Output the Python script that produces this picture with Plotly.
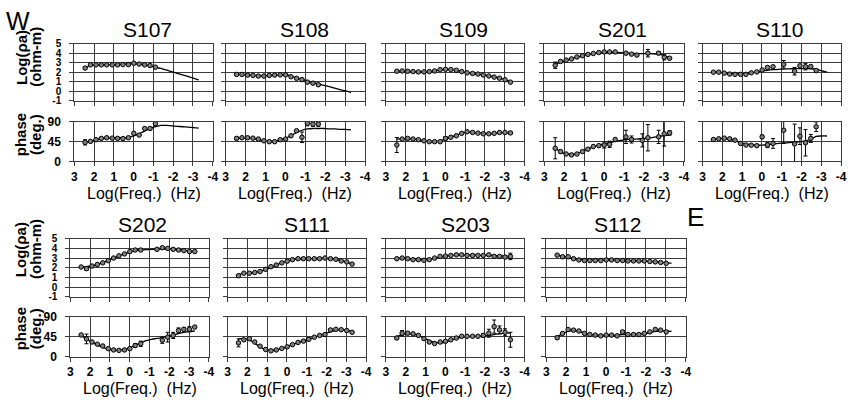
import plotly.graph_objects as go

N = None
FREQ = [2.45, 2.18, 1.90, 1.63, 1.36, 1.08, 0.81, 0.54, 0.26, -0.01, -0.28, -0.56,
        -0.83, -1.10, -1.38, -1.65, -1.92, -2.20, -2.47, -2.74, -3.02, -3.29]
X_TICKS = [3, 2, 1, 0, -1, -2, -3, -4]
X_TICK_TEXT = ["3", "2", "1", "0", "-1", "-2", "-3", "-4"]
RHO_TICKS = [5, 4, 3, 2, 1, 0, -1]
RHO_TICK_TEXT = ["5", "4", "3", "2", "1", "0", "-1"]
PHASE_TICKS = [90, 45, 0]
STATIONS = ["S107", "S108", "S109", "S201", "S110", "S202", "S111", "S203", "S112"]

RHO_DATA = {
    "S107": [2.43, 2.77, 2.77, 2.77, 2.77, 2.77, 2.77, 2.8, 2.8, 2.94, 2.85, 2.77, 2.7, 2.53, N, N, N, N, N, N, N, N],
    "S108": [1.76, 1.76, 1.69, 1.66, 1.59, 1.59, 1.66, 1.69, 1.72, 1.72, 1.52, 1.35, 1.22, 0.95, 0.84, 0.68, N, N, N, N, N, N],
    "S109": [2.1, 2.13, 2.1, 2.06, 2.03, 2.03, 2.06, 2.13, 2.27, 2.3, 2.27, 2.2, 2.06, 1.93, 1.86, 1.8, 1.7, 1.6, 1.48, 1.37, 1.2, 0.95],
    "S201": [2.73, 3.13, 3.27, 3.4, 3.6, 3.73, 3.87, 3.97, 4.07, 4.13, 4.13, 4.13, N, 4.0, 3.9, 3.8, N, 4.0, N, 4.0, 3.57, 3.47],
    "S110": [2.0, 2.0, 1.9, 1.8, 1.77, 1.77, 1.77, 1.93, 2.03, 2.23, 2.5, 2.57, N, 2.83, N, 2.1, 2.67, 2.57, 2.6, 2.17, N, N],
    "S202": [2.07, 1.9, 2.17, 2.33, 2.5, 2.73, 3.0, 3.23, 3.43, 3.67, 3.83, 3.83, N, N, 3.9, 4.07, 4.0, 3.9, 3.83, 3.77, 3.67, 3.67],
    "S111": [1.17, 1.43, 1.43, 1.5, 1.6, 1.83, 2.1, 2.27, 2.5, 2.67, 2.83, 2.93, 2.93, 2.93, 2.93, 2.93, 3.0, 2.93, 2.87, 2.7, 2.6, 2.37],
    "S203": [2.93, 3.0, 2.93, 2.83, 2.83, 2.77, 2.83, 3.0, 3.17, 3.2, 3.27, 3.33, 3.33, 3.27, 3.27, 3.27, 3.27, 3.33, 3.17, 3.17, 3.1, 3.17],
    "S112": [3.3, 3.13, 3.13, 2.93, 2.8, 2.74, 2.74, 2.74, 2.74, 2.8, 2.8, 2.74, 2.74, 2.7, 2.7, 2.7, 2.7, 2.64, 2.6, 2.54, 2.45, N],
}
RHO_ERR = {
    "S107": {0: 0.12},
    "S108": {12: 0.12, 13: 0.08},
    "S109": {0: 0.1},
    "S201": {0: 0.33, 9: 0.1, 13: 0.1, 15: 0.1, 17: 0.4, 19: 0.15, 20: 0.27},
    "S110": {10: 0.1, 11: 0.1, 13: 0.4, 15: 0.4, 16: 0.1, 17: 0.33, 18: 0.1, 19: 0.12},
    "S202": {1: 0.15, 14: 0.1, 15: 0.1},
    "S111": {0: 0.1},
    "S203": {17: 0.1, 18: 0.1, 19: 0.08, 20: 0.1, 21: 0.33},
    "S112": {0: 0.08},
}
RHO_MODEL = {
    "S107": [2.43, 2.68, 2.76, 2.78, 2.79, 2.8, 2.81, 2.83, 2.86, 2.88, 2.85, 2.78, 2.67, 2.52, 2.4, 2.23, 2.06, 1.88, 1.72, 1.55, 1.38, 1.2],
    "S108": [1.76, 1.74, 1.71, 1.68, 1.64, 1.63, 1.65, 1.69, 1.72, 1.71, 1.58, 1.42, 1.25, 1.08, 0.92, 0.77, 0.62, 0.47, 0.32, 0.17, 0.02, -0.14],
    "S109": [2.1, 2.12, 2.1, 2.07, 2.05, 2.05, 2.08, 2.14, 2.24, 2.28, 2.26, 2.18, 2.07, 1.96, 1.87, 1.8, 1.72, 1.62, 1.5, 1.37, 1.22, 1.0],
    "S201": [2.8, 3.05, 3.25, 3.42, 3.58, 3.72, 3.85, 3.95, 4.03, 4.08, 4.1, 4.09, 4.06, 4.02, 3.98, 3.96, 3.95, 3.95, 3.94, 3.9, 3.75, 3.55],
    "S110": [2.0, 1.98, 1.93, 1.88, 1.84, 1.83, 1.85, 1.92, 2.02, 2.12, 2.2, 2.26, 2.3, 2.33, 2.35, 2.37, 2.38, 2.38, 2.36, 2.3, 2.15, 2.0],
    "S202": [2.05, 2.1, 2.2, 2.35, 2.52, 2.73, 2.97, 3.2, 3.43, 3.62, 3.75, 3.82, 3.87, 3.9, 3.92, 3.93, 3.92, 3.89, 3.84, 3.79, 3.74, 3.7],
    "S111": [1.3, 1.38, 1.43, 1.5, 1.62, 1.8, 2.05, 2.28, 2.5, 2.67, 2.8, 2.88, 2.92, 2.94, 2.95, 2.95, 2.95, 2.92, 2.85, 2.73, 2.58, 2.4],
    "S203": [2.95, 2.95, 2.92, 2.88, 2.85, 2.84, 2.87, 2.97, 3.1, 3.2, 3.26, 3.3, 3.31, 3.31, 3.3, 3.29, 3.28, 3.27, 3.25, 3.22, 3.2, 3.18],
    "S112": [3.28, 3.2, 3.08, 2.95, 2.85, 2.8, 2.78, 2.78, 2.78, 2.79, 2.79, 2.77, 2.75, 2.73, 2.71, 2.7, 2.69, 2.66, 2.62, 2.57, 2.5, 2.47],
}
PHASE_DATA = {
    "S107": [43.5, 45.7, 49.5, 52.5, 54, 53, 52.5, 52, 54, 64, 60, 75, 75, 86, N, N, N, N, N, N, N, N],
    "S108": [52.5, 54, 54, 53, 51, 47, 45, 45, 49.5, 51, 58.5, 70, 55, 87, 85, 85, N, N, N, N, N, N],
    "S109": [37.5, 51, 52.5, 51, 49.5, 47, 45, 45, 45, 52.5, 55, 58.5, 64, 67.5, 66, 64.5, 63, 63, 64, 66, 66, 65],
    "S201": [30, 22.5, 17, 15, 17, 22.5, 28, 34, 36, 37.5, 39, 50, N, 56, 50, N, 48, 54, N, 56, 63, 65],
    "S110": [50, 51.5, 53, 51.5, 48.5, 41, 37.5, 37, 36, 56, 37.5, 41, N, 71, N, 40, 57.5, 42.5, 52.5, 79, N, N],
    "S202": [49, 40, 33, 28, 24, 18, 15, 14, 15, 18, 25, 29, N, N, N, 37, 44, 48, 59, 62, 62, 67],
    "S111": [31, 38, 40.5, 33, 23.6, 16, 13, 15, 18.5, 22, 27, 32, 35, 39, 44, 48, 50, 60.5, 62, 61, 59, 55],
    "S203": [42, 53, 53, 51.6, 48, 40.6, 33, 29.5, 33, 34.6, 38, 42, 46, 46, 46, 46, 48, 53, 68, 60.5, 55, 38],
    "S112": [42.7, 52.5, 61.5, 60, 58, 52.5, 50, 48.7, 47, 48.7, 48.7, 47, 56, 50, 50, 50, 52.5, 56, 61.5, 60, 56, N],
}
PHASE_ERR = {
    "S107": {0: 6, 13: 5},
    "S108": {0: 3, 12: 12, 13: 6, 14: 5, 15: 5},
    "S109": {0: 17, 9: 4, 21: 3},
    "S201": {0: 24, 1: 3, 9: 7, 10: 7, 13: 15, 14: 8, 16: 15, 17: 30, 19: 15, 20: 28, 21: 5},
    "S110": {9: 4, 10: 6, 11: 11, 13: 30, 15: 45, 16: 19, 17: 30, 18: 9, 19: 11},
    "S202": {1: 11, 10: 4, 11: 6, 15: 7, 16: 11, 17: 7, 18: 6, 19: 4, 20: 6, 21: 2},
    "S111": {0: 9, 17: 3},
    "S203": {0: 3, 1: 6, 16: 4, 17: 9, 18: 15, 19: 9, 20: 8, 21: 17},
    "S112": {0: 4, 12: 3},
}
PHASE_MODEL = {
    "S107": [44, 46, 49, 52, 53, 54, 54, 54, 55, 58, 63, 69, 75, 79, 82, 82, 81, 80, 79, 78, 77, 76],
    "S108": [52, 53, 53, 52, 50, 47, 45, 46, 49, 53, 59, 66, 71, 74, 75, 75, 75, 74, 74, 73, 73, 72],
    "S109": [51, 52, 52, 51, 49, 47, 45, 45, 47, 51, 55, 60, 64, 66, 66, 65, 64, 63, 64, 65, 65, 65],
    "S201": [30, 22, 17, 16, 18, 23, 28, 33, 37, 40, 43, 46, 48, 50, 51, 51, 52, 53, 55, 57, 59, 60],
    "S110": [50, 52, 52, 50, 47, 43, 40, 38, 37, 37, 38, 40, 41, 42, 43, 44, 45, 47, 50, 57, 58, 58],
    "S202": [48, 40, 32, 26, 21, 16, 14, 14, 16, 20, 26, 31, 36, 39, 41, 43, 46, 49, 52, 55, 57, 58],
    "S111": [40, 41, 38, 30, 22, 16, 14, 15, 18, 22, 27, 32, 36, 40, 44, 48, 52, 56, 59, 61, 60, 57],
    "S203": [46, 50, 52, 51, 48, 42, 36, 32, 31, 33, 37, 41, 44, 45, 46, 46, 47, 48, 50, 52, 53, 54],
    "S112": [45, 52, 58, 59, 57, 53, 50, 49, 48, 48, 48, 49, 50, 50, 50, 51, 52, 54, 57, 58, 58, 57],
}

# ---- layout (pixel geometry) ----
W, H = 856, 406
PANEL_X = {"S107": (72, 212), "S108": (225, 366), "S109": (387, 527), "S201": (547, 688),
           "S110": (707, 847), "S202": (68, 208), "S111": (227, 367), "S203": (387, 527),
           "S112": (549, 690)}
TITLE_X = {"S107": 146, "S108": 305, "S109": 465, "S201": 626, "S110": 785,
           "S202": 141, "S111": 307, "S203": 467, "S112": 622}
ROW_OF = {"S107": 0, "S108": 0, "S109": 0, "S201": 0, "S110": 0,
          "S202": 1, "S111": 1, "S203": 1, "S112": 1}
ROWS = [dict(rho=(38, 97), ph=(119, 160), title=23, xtitle=193, ylab_rho=52, ylab_ph=132),
        dict(rho=(240, 300), ph=(321, 362), title=225, xtitle=395, ylab_rho=251, ylab_ph=333)]
FIRST_COL = {"S107", "S202"}

FONT = "Liberation Sans, Arial, sans-serif"
NARROW = "Liberation Sans Narrow, Liberation Sans, Arial, sans-serif"
GRID = "#3c3c3c"


def xd(a, b):
    return [a / W, b / W]


def yd(top, bottom):
    return [1 - bottom / H, 1 - top / H]


def expand(errs):
    return [errs.get(i, 0) for i in range(len(FREQ))]


fig = go.Figure()
layout = {}
annotations = []

for i, st in enumerate(STATIONS):
    r = ROWS[ROW_OF[st]]
    x0, x1 = PANEL_X[st]
    first = st in FIRST_COL
    for j, kind in enumerate(["rho", "ph"]):
        k = 2 * i + j + 1
        xname = "xaxis" if k == 1 else f"xaxis{k}"
        yname = "yaxis" if k == 1 else f"yaxis{k}"
        xref = "x" if k == 1 else f"x{k}"
        yref = "y" if k == 1 else f"y{k}"
        top, bot = r[kind]
        layout[xname] = dict(
            domain=xd(x0, x1), anchor=yref, range=[3, -4],
            tickmode="array", tickvals=X_TICKS, ticktext=X_TICK_TEXT,
            showticklabels=(kind == "ph"), ticks="outside", ticklen=4, tickcolor=GRID,
            showgrid=True, gridcolor=GRID, gridwidth=1, zeroline=False,
            showline=True, linecolor=GRID, linewidth=1, mirror=True,
            tickfont=dict(family=FONT, size=12, color="black", weight="bold"),
            ticklabelstandoff=0, fixedrange=True,
        )
        if kind == "rho":
            yr, tv, tt = [-1, 5], RHO_TICKS, RHO_TICK_TEXT
            ydata, yerr, ymod = RHO_DATA[st], expand(RHO_ERR[st]), RHO_MODEL[st]
        else:
            yr, tv, tt = [0, 90], PHASE_TICKS, [str(v) for v in PHASE_TICKS]
            ydata, yerr, ymod = PHASE_DATA[st], expand(PHASE_ERR[st]), PHASE_MODEL[st]
        layout[yname] = dict(
            domain=yd(top, bot), anchor=xref, range=yr,
            tickmode="array", tickvals=tv, ticktext=tt,
            showticklabels=first, ticks="outside", ticklen=4, tickcolor=GRID,
            showgrid=True, gridcolor=GRID, gridwidth=1, zeroline=False,
            showline=True, linecolor=GRID, linewidth=1, mirror=True,
            tickfont=dict(family=FONT, size=(10 if kind == "rho" else 12),
                          color="black", weight="bold"),
            ticklabelstandoff=6, fixedrange=True,
        )
        fig.add_trace(go.Scatter(
            x=FREQ, y=ymod, mode="lines", xaxis=xref, yaxis=yref,
            line=dict(color="black", width=1.3, shape="spline", smoothing=0.8),
            hoverinfo="skip", showlegend=False))
        fig.add_trace(go.Scatter(
            x=FREQ, y=ydata, mode="markers", xaxis=xref, yaxis=yref,
            marker=dict(symbol="circle", size=4.5, color="#808080",
                        line=dict(color="black", width=1)),
            error_y=dict(type="data", array=yerr, visible=True, color="black",
                         thickness=1, width=2),
            showlegend=False))
    # station title
    annotations.append(dict(x=TITLE_X[st] / W, y=1 - r["title"] / H, xref="paper", yref="paper",
                            text=st, showarrow=False, xanchor="center", yanchor="middle",
                            font=dict(family=FONT, size=21, color="black")))
    # x-axis title
    annotations.append(dict(x=(x0 + x1) / 2 / W, y=1 - r["xtitle"] / H, xref="paper", yref="paper",
                            text="Log(Freq.)  (Hz)", showarrow=False, xanchor="center",
                            yanchor="middle", font=dict(family=FONT, size=16, color="black")))
    if first:
        for txt, xp, yp in [("Log(ρa)", 18, r["ylab_rho"]), ("(ohm-m)", 33, r["ylab_rho"]),
                            ("phase", 18, r["ylab_ph"]), ("(deg.)", 33, r["ylab_ph"])]:
            annotations.append(dict(x=xp / W, y=1 - yp / H, xref="paper", yref="paper",
                                    text=txt, showarrow=False, textangle=-90,
                                    xanchor="center", yanchor="middle",
                                    font=dict(family=NARROW, size=15, color="black",
                                              weight="bold")))

annotations.append(dict(x=15 / W, y=1 - 14 / H, xref="paper", yref="paper", text="W",
                        showarrow=False, xanchor="center", yanchor="middle",
                        font=dict(family=FONT, size=25, color="black")))
annotations.append(dict(x=700 / W, y=1 - 217 / H, xref="paper", yref="paper", text="E",
                        showarrow=False, xanchor="center", yanchor="middle",
                        font=dict(family=FONT, size=26, color="black")))

fig.update_layout(
    width=W, height=H, margin=dict(l=0, r=0, t=0, b=0),
    paper_bgcolor="white", plot_bgcolor="white",
    showlegend=False, annotations=annotations, **layout)

PIN = ("var gd=document.getElementById('{plot_id}');"
       "document.body.style.margin='0';"
       "gd.style.position='fixed';gd.style.left='0px';gd.style.top='0px';")
fig.write_html("out.html", config={"responsive": False, "displayModeBar": False},
               post_script=PIN)
